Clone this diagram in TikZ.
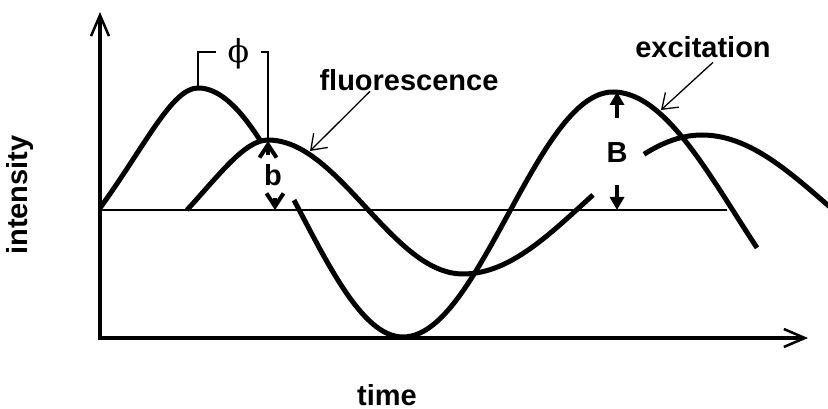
\documentclass[tikz,border=0pt]{standalone}
\usepackage{fontspec}
\setmainfont{Liberation Sans}
\newfontfamily\phifont{DejaVu Serif}
\usetikzlibrary{positioning, arrows.meta}

\begin{document}
\begin{tikzpicture}[x=0.2mm, y=0.2mm, thick,
    wave/.style={line width=1mm, line join=round},
    axis/.style={line width=0.8mm, {Straight Barb[length=4.2mm, width=3.6mm, line width=0.5mm]}-{Straight Barb[length=4.2mm, width=3.6mm, line width=0.5mm]}},
    lbl/.style={font=\bfseries\fontsize{16.5}{19}\selectfont, inner sep=0pt},
    pointer/.style={line width=0.26mm, -{Straight Barb[length=2.8mm, width=4mm]}},
    bracket/.style={line width=0.26mm},
    barb/.style={line width=0.8mm, -{Straight Barb[length=2.6mm, width=3.4mm]}},
    Barrow/.style={line width=0.8mm, -{Triangle[length=2.6mm, width=2.8mm]}}]
  \useasboundingbox (-100,-71) rectangle (728,338);

  % axes and base line
  \coordinate (origin) at (0,0);
  \coordinate (ytop) at (0,326);
  \coordinate (xend) at (708,0);
  \coordinate (base0) at (0,128);
  \coordinate (base1) at (627,128);
  \draw[axis] (ytop) -- (origin) -- (xend);
  \draw[line width=0.4mm] (base0) -- (base1);

  % peaks
  \coordinate (expeak) at (98,250);
  \coordinate (flpeak) at (168,198);
  \coordinate (Btop) at (515,246);
  \coordinate (Bbot) at (515,128);
  \coordinate (bup) at (168,197);
  \coordinate (blow) at (175,128);

  % excitation
  \draw[wave] (0,130) .. controls (45,192) and (72,250) .. (expeak)
    -- plot[domain=98:160, samples=25] (\x, {125.5+124.5*cos((\x-98)/205*180)});
  \draw[wave] plot[domain=194:303, samples=30] (\x, {125.5+124.5*cos((\x-98)/205*180)})
    -- plot[domain=303:513, samples=50] (\x, {123.5-122.5*cos((\x-303)/210*180)})
    -- plot[domain=513:657, samples=35] (\x, {123.5+122.5*cos((\x-513)/245*180)});

  % fluorescence
  \draw[wave] (87,128) .. controls (120,164) and (145,198) .. (flpeak)
    -- plot[domain=168:363, samples=45] (\x, {131+67*cos((\x-168)/195*180)})
    -- plot[domain=363:493, samples=30] (\x, {133.5-69.5*cos((\x-363)/239*180)});
  \draw[wave] plot[domain=544:602, samples=15] (\x, {133.5-69.5*cos((\x-363)/239*180)})
    -- plot[domain=602:740, samples=30] (\x, {133.5+69.5*cos((\x-602)/250*180)});

  % labels
  \node[lbl] (fluolabel) at (309,258) {fluorescence};
  \node[lbl] (excilabel) at (603,291) {excitation};
  \node[lbl, rotate=90] (intlabel) at (-80,143) {intensity};
  \node[lbl] (timelabel) at (287,-57) {time};
  \node[lbl] (blabel) at (173,163) {b};
  \node[lbl] (Blabel) at (517,185) {B};
  \node[font=\phifont\fontsize{18}{20}\selectfont, inner sep=0pt, minimum width=8.6mm] (phi) at (138.5,284) {ϕ};

  \coordinate (fluotip) at (210,187);
  \coordinate (excitip) at (561,228);
  \draw[pointer] ([xshift=-7.8mm]fluolabel.south) -- (fluotip);
  \draw[pointer] ([xshift=2mm, yshift=-0.8mm]excilabel.south) -- (excitip);

  % phase bracket
  \draw[bracket] (expeak) |- ([yshift=0.4mm]phi.west);
  \draw[bracket] ([yshift=0.4mm]phi.east) -| (flpeak);

  % amplitude marks
  \draw[barb] ([yshift=-2.8mm]bup) -- (bup);
  \draw[barb] ([yshift=2.4mm]blow) -- (blow);
  \draw[Barrow] ([yshift=4.9mm]Blabel.north) -- (Blabel.north |- Btop);
  \draw[Barrow] ([yshift=-4.3mm]Blabel.south) -- (Blabel.south |- Bbot);
\end{tikzpicture}
\end{document}
